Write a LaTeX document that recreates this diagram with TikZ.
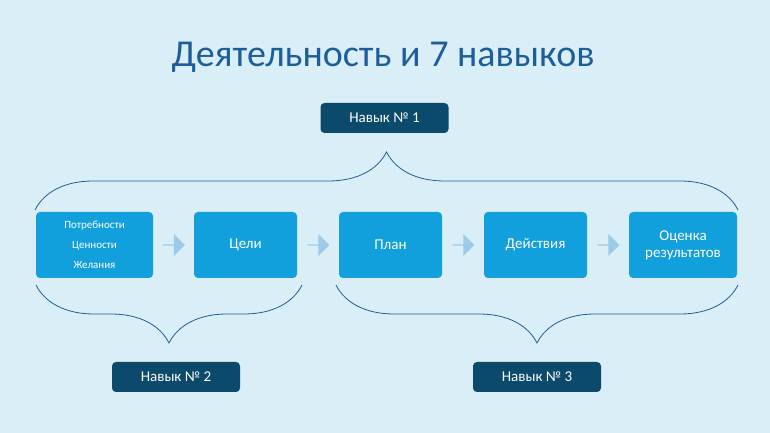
\documentclass[tikz,border=0pt]{standalone}
\usepackage{fontspec}
\setmainfont{Carlito}
\usetikzlibrary{shapes.arrows,decorations.pathreplacing,positioning}
\definecolor{bgblue}{HTML}{DAEEF8}
\definecolor{boxblue}{HTML}{12A0DC}
\definecolor{navblue}{HTML}{0C4A6C}
\definecolor{titleblue}{HTML}{1B5E9A}
\definecolor{arrblue}{HTML}{9CCBEA}
\definecolor{braceblue}{HTML}{1F5F99}

\begin{document}
\begin{tikzpicture}[x=1pt,y=1pt]

	\tikzstyle{step_box} = [rectangle, rounded corners=4pt, fill=boxblue, text=white, minimum height=66pt, align=center, font=\fontsize{15}{18}\selectfont]
	\tikzstyle{skill_box} = [rectangle, rounded corners=4pt, fill=navblue, text=white, minimum width=128pt, minimum height=30pt, font=\fontsize{15}{18}\selectfont]
	\tikzstyle{step_arrow} = [single arrow, fill=arrblue, minimum width=22pt, single arrow head extend=4pt, minimum height=22pt, inner sep=0pt]
	\tikzstyle{big_brace} = [draw=braceblue, line width=0.8pt, decorate, decoration={brace, amplitude=58pt}]

	\fill[bgblue] (0,0) rectangle (770,433);

%------------------------------------------------------------
	\node[text=titleblue, font=\fontsize{38}{44}\selectfont] (title) at (383,376) {Деятельность и 7 навыков};

%------------------------------------------------------------
	\node[step_box, minimum width=117pt, font=\fontsize{11}{20}\selectfont] (needs) at (94.5,188) {Потребности\\Ценности\\Желания};
	\node[step_box, minimum width=103pt] (goals) at (245.5,188) {Цели};
	\node[step_box, minimum width=103pt] (plan) at (390.5,188) {План};
	\node[step_box, minimum width=103pt] (actions) at (535.5,188) {Действия};
	\node[step_box, minimum width=108pt, font=\fontsize{15}{17}\selectfont] (results) at (683,188) {Оценка\\результатов};

%------------------------------------------------------------
	\path (needs.east) -- node[step_arrow]{} (goals.west);
	\path (goals.east) -- node[step_arrow]{} (plan.west);
	\path (plan.east) -- node[step_arrow]{} (actions.west);
	\path (actions.east) -- node[step_arrow]{} (results.west);

%------------------------------------------------------------
	\coordinate (t1) at (35,223);
	\coordinate (t2) at (738,223);
	\coordinate (b1) at (302,148);
	\coordinate (b2) at (36,148);
	\coordinate (b3) at (738,148);
	\coordinate (b4) at (336,148);
	\draw[big_brace] (t1) -- (t2);
	\draw[big_brace] (b1) -- (b2);
	\draw[big_brace] (b3) -- (b4);

%------------------------------------------------------------
	\node[skill_box] (skill1) at (384.5,315) {Навык № 1};
	\node[skill_box] (skill2) at (176,56) {Навык № 2};
	\node[skill_box] (skill3) at (537,56) {Навык № 3};

\end{tikzpicture}
\end{document}
